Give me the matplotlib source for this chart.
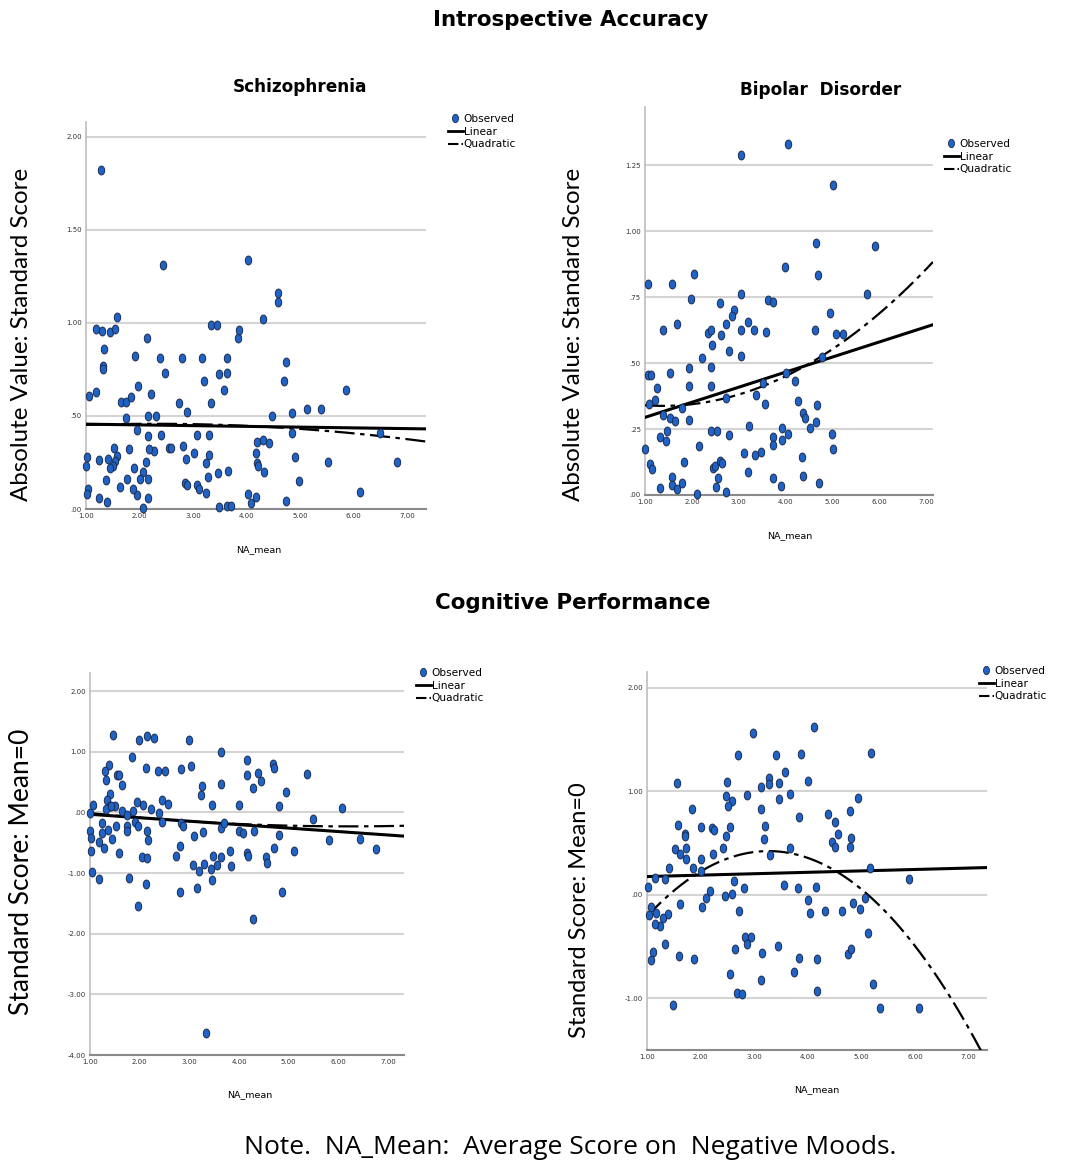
import numpy as np
import matplotlib
matplotlib.use("Agg")
import matplotlib.pyplot as plt
from matplotlib.lines import Line2D
from matplotlib.path import Path
from matplotlib.transforms import Affine2D

# ---- data ----
# Schizophrenia, introspective accuracy
scz_ia_x = [1.28, 2.44, 4.02, 4.59, 4.59, 1.57, 1.19, 1.30, 1.44, 1.54, 1.34, 1.32, 1.32, 1.05, 1.19,
            2.13, 1.92, 2.38, 1.98, 2.21, 2.47, 1.65, 1.75, 1.84, 1.74, 2.16, 2.30, 2.80, 2.74, 2.89,
            3.17, 3.21, 3.33, 3.33, 3.44, 3.49, 3.58, 3.64, 3.64, 3.83, 3.86, 4.31, 4.73, 4.70, 4.48,
            4.84, 5.13, 5.39, 5.85, 4.84, 6.49, 5.52, 6.80, 6.12, 4.98, 4.90, 4.73, 4.42, 4.31, 4.19,
            4.17, 4.19, 4.22, 4.33, 4.03, 4.09, 4.17, 3.66, 3.47, 3.49, 3.64, 3.70, 3.30, 3.30, 3.25,
            3.27, 3.25, 3.07, 3.01, 3.08, 3.11, 2.85, 2.88, 2.86, 2.82, 2.55, 2.59, 2.40, 2.27, 2.18,
            2.16, 2.16, 2.16, 2.12, 2.06, 2.06, 2.01, 1.96, 1.95, 1.90, 1.88, 1.80, 1.77, 1.63, 1.58,
            1.53, 1.54, 1.50, 1.45, 1.42, 1.37, 1.40, 1.25, 1.25, 1.02, 1.00, 1.03, 1.02]
scz_ia_y = [1.82, 1.31, 1.34, 1.16, 1.11, 1.03, 0.97, 0.955, 0.95, 0.97, 0.86, 0.77, 0.755, 0.61, 0.63,
            0.92, 0.825, 0.81, 0.66, 0.62, 0.73, 0.575, 0.575, 0.60, 0.49, 0.50, 0.50, 0.81, 0.57, 0.52,
            0.81, 0.69, 0.57, 0.99, 0.99, 0.725, 0.64, 0.81, 0.73, 0.92, 0.96, 1.02, 0.79, 0.69, 0.50,
            0.515, 0.535, 0.535, 0.64, 0.41, 0.41, 0.25, 0.25, 0.09, 0.15, 0.28, 0.045, 0.355, 0.37, 0.36,
            0.30, 0.245, 0.23, 0.20, 0.08, 0.03, 0.063, 0.205, 0.195, 0.01, 0.015, 0.018, 0.40, 0.29, 0.245,
            0.17, 0.085, 0.40, 0.30, 0.13, 0.11, 0.14, 0.127, 0.27, 0.34, 0.33, 0.33, 0.40, 0.31, 0.32,
            0.39, 0.16, 0.06, 0.25, 0.20, 0.005, 0.16, 0.425, 0.073, 0.22, 0.107, 0.32, 0.16, 0.116, 0.285,
            0.33, 0.26, 0.23, 0.22, 0.27, 0.157, 0.038, 0.265, 0.06, 0.28, 0.23, 0.107, 0.08]

# Bipolar disorder, introspective accuracy
bd_ia_x = [3.06, 4.06, 5.02, 4.65, 5.91, 4.00, 4.69, 1.06, 1.57, 2.05, 1.98, 3.05, 2.60, 2.90, 2.85,
           2.73, 3.21, 3.33, 3.04, 3.63, 3.74, 3.58, 5.73, 4.95, 4.63, 5.08, 5.22, 1.38, 1.68, 2.35,
           2.42, 2.62, 2.44, 2.79, 3.04, 2.21, 1.95, 2.42, 1.53, 1.07, 1.12, 1.25, 1.95, 2.41, 4.20,
           4.02, 4.79, 3.53, 3.38, 3.56, 4.26, 4.67, 1.22, 1.08, 1.38, 1.53, 1.65, 1.78, 1.95, 2.72,
           4.38, 4.42, 4.52, 4.65, 3.22, 3.93, 4.06, 5.00, 1.48, 1.31, 1.44, 2.42, 2.53, 2.79, 2.16,
           3.73, 3.74, 3.92, 1.01, 5.01, 3.12, 3.35, 3.47, 4.35, 1.83, 1.11, 1.14, 2.46, 2.49, 2.60,
           2.64, 3.19, 3.73, 4.38, 2.55, 1.58, 1.58, 1.68, 1.80, 1.31, 2.52, 2.74, 2.12, 3.90, 4.72]
bd_ia_y = [1.288, 1.33, 1.176, 0.954, 0.945, 0.863, 0.835, 0.80, 0.80, 0.838, 0.743, 0.76, 0.728, 0.70, 0.677,
           0.649, 0.655, 0.626, 0.626, 0.737, 0.733, 0.617, 0.762, 0.69, 0.627, 0.611, 0.611, 0.624, 0.646, 0.615,
           0.626, 0.605, 0.57, 0.544, 0.525, 0.52, 0.48, 0.485, 0.462, 0.454, 0.454, 0.407, 0.412, 0.412, 0.432,
           0.462, 0.523, 0.426, 0.378, 0.346, 0.355, 0.34, 0.359, 0.344, 0.302, 0.29, 0.281, 0.328, 0.286, 0.368,
           0.309, 0.29, 0.255, 0.275, 0.262, 0.255, 0.233, 0.233, 0.242, 0.22, 0.205, 0.243, 0.242, 0.229, 0.186,
           0.22, 0.189, 0.21, 0.174, 0.176, 0.158, 0.151, 0.164, 0.145, 0.126, 0.116, 0.097, 0.103, 0.111, 0.129,
           0.122, 0.088, 0.063, 0.073, 0.066, 0.069, 0.038, 0.021, 0.044, 0.025, 0.029, 0.013, 0.003, 0.035, 0.047]

# Schizophrenia, cognitive performance
scz_cp_x = [1.46, 1.99, 2.14, 2.29, 2.99, 3.64, 1.84, 4.16, 3.03, 2.84, 2.12, 2.37, 2.51, 1.39, 1.30,
            1.32, 1.54, 1.58, 1.65, 4.69, 4.70, 4.15, 4.38, 4.45, 4.28, 5.36, 3.25, 3.24, 3.63, 4.94,
            1.40, 1.35, 1.51, 1.40, 1.07, 1.95, 2.06, 2.22, 2.45, 2.56, 2.39, 2.44, 3.45, 4.00, 4.81,
            6.08, 5.49, 0.99, 1.32, 1.42, 1.64, 1.75, 1.87, 1.90, 1.97, 1.25, 1.52, 1.75, 1.74, 1.25,
            1.37, 1.44, 1.00, 1.03, 1.18, 1.28, 1.02, 1.58, 1.05, 1.18, 1.79, 2.13, 1.97, 2.04, 2.14,
            2.15, 2.17, 2.84, 2.87, 2.73, 2.81, 2.81, 3.09, 3.07, 3.20, 3.16, 3.30, 3.28, 3.48, 3.43,
            3.46, 3.56, 3.63, 3.63, 3.69, 3.81, 3.83, 4.00, 4.07, 4.15, 4.18, 4.30, 4.28, 4.55, 4.56,
            4.70, 4.81, 4.87, 5.10, 5.81, 6.43, 6.75, 3.33]
scz_cp_y = [1.28, 1.20, 1.26, 1.22, 1.20, 0.99, 0.92, 0.86, 0.76, 0.72, 0.73, 0.69, 0.69, 0.79, 0.69,
            0.53, 0.61, 0.61, 0.45, 0.80, 0.73, 0.62, 0.65, 0.52, 0.41, 0.64, 0.43, 0.28, 0.47, 0.34,
            0.31, 0.20, 0.11, 0.11, 0.13, 0.17, 0.12, 0.055, 0.21, 0.14, -0.01, -0.15, 0.12, 0.12, 0.11,
            0.07, -0.11, -0.01, 0.055, 0.11, 0.03, -0.04, 0.02, -0.15, -0.23, -0.17, -0.23, -0.23, -0.31, -0.34,
            -0.29, -0.43, -0.31, -0.42, -0.48, -0.58, -0.64, -0.67, -0.99, -1.10, -1.08, -1.18, -1.54, -0.74, -0.75,
            -0.31, -0.45, -0.18, -0.23, -0.72, -0.56, -1.32, -0.38, -0.86, -0.96, -1.24, -0.85, -0.33, -0.72, -0.94,
            -1.11, -0.86, -0.74, -0.26, -0.18, -0.64, -0.89, -0.30, -0.34, -0.67, -0.72, -0.30, -1.76, -0.74, -0.83,
            -0.59, -0.37, -1.32, -0.64, -0.45, -0.44, -0.60, -3.64]

# Bipolar disorder, cognitive performance
bd_cp_x = [4.11, 2.97, 5.17, 2.69, 3.41, 3.87, 3.58, 3.28, 3.28, 3.13, 3.46, 4.00, 1.56, 2.49, 2.48,
           2.59, 2.51, 2.87, 3.67, 3.46, 3.13, 4.94, 1.84, 3.84, 4.38, 4.78, 4.50, 4.56, 4.80, 4.78,
           4.45, 4.50, 1.57, 2.00, 2.21, 2.25, 2.55, 2.48, 3.20, 3.19, 1.70, 1.70, 1.52, 1.62, 1.72,
           1.73, 2.42, 2.23, 2.01, 1.86, 1.41, 2.01, 3.66, 3.29, 5.15, 1.14, 1.33, 1.02, 2.62, 2.80,
           2.59, 2.46, 2.18, 2.10, 2.02, 3.55, 3.81, 4.16, 4.00, 4.04, 4.31, 4.64, 4.84, 4.98, 5.07,
           5.89, 2.72, 1.61, 1.40, 1.29, 1.25, 1.14, 1.08, 1.17, 1.04, 1.33, 1.60, 1.87, 1.11, 1.08,
           2.65, 2.82, 2.93, 2.87, 3.15, 3.44, 3.83, 3.74, 3.13, 2.54, 2.68, 2.78, 4.17, 4.17, 4.75,
           4.80, 5.12, 5.21, 1.48, 5.35, 6.07]
bd_cp_y = [1.62, 1.56, 1.37, 1.35, 1.35, 1.36, 1.18, 1.13, 1.07, 1.04, 1.08, 1.10, 1.08, 1.09, 0.95,
           0.90, 0.86, 0.96, 0.97, 0.92, 0.83, 0.93, 0.83, 0.75, 0.78, 0.81, 0.70, 0.59, 0.55, 0.46,
           0.51, 0.46, 0.67, 0.65, 0.64, 0.62, 0.65, 0.57, 0.66, 0.54, 0.59, 0.57, 0.44, 0.39, 0.45,
           0.34, 0.45, 0.39, 0.34, 0.26, 0.26, 0.23, 0.45, 0.38, 0.26, 0.16, 0.15, 0.07, 0.13, 0.06,
           0.01, -0.01, 0.04, -0.03, -0.12, 0.09, 0.06, 0.07, -0.05, -0.18, -0.16, -0.16, -0.08, -0.14, -0.03,
           0.15, -0.16, -0.09, -0.19, -0.23, -0.30, -0.28, -0.12, -0.18, -0.20, -0.48, -0.59, -0.62, -0.55, -0.63,
           -0.52, -0.41, -0.41, -0.48, -0.56, -0.50, -0.61, -0.75, -0.82, -0.77, -0.95, -0.96, -0.62, -0.93, -0.57,
           -0.52, -0.37, -0.86, -1.07, -1.09, -1.09]

# fitted curves as drawn (polynomial coefficients, highest power first)
scz_ia_lin = [-0.004, 0.46]
scz_ia_quad = [-0.00371, 0.0169, 0.4388]
bd_ia_lin = [0.0571, 0.237]
bd_ia_quad = [0.01639, -0.04528, 0.3689]
scz_cp_lin = [-0.057, 0.027]
scz_cp_quad = [0.00808, -0.1004, 0.0823]
bd_cp_lin = [0.0137, 0.161]
bd_cp_quad = [-0.1228, 0.8022, -0.8894]

x_ticks = [1, 2, 3, 4, 5, 6, 7]
ia_scz_yticks = [0, 0.5, 1.0, 1.5, 2.0]
ia_bd_yticks = [0, 0.25, 0.5, 0.75, 1.0, 1.25]
cp_scz_yticks = [-4, -3, -2, -1, 0, 1, 2]
cp_bd_yticks = [-1, 0, 1, 2]


def spss_fmt(v):
    s = "%.2f" % v
    if s.startswith("0."):
        s = s[1:]
    elif s.startswith("-0."):
        s = "-" + s[2:]
    return s


W, H = 1065, 1165
fig = plt.figure(figsize=(W / 100, H / 100), dpi=100)

# SPSS draws its dots slightly taller than wide
dot = Path.unit_circle().transformed(Affine2D().scale(0.72, 1.0))
dot_face, dot_edge = "#1f63c6", "#1b2b4f"


def panel(rect, xs, ys, lin, quad, xlim, ylim, yticks, legend_xy):
    l, t, r, b = rect
    ax = fig.add_axes([l / W, 1 - b / H, (r - l) / W, (b - t) / H])
    for yt in yticks:
        ax.axhline(yt, color="#d4d4d4", lw=1.5, zorder=0)
    xx = np.linspace(xlim[0], xlim[1], 300)
    ax.plot(xx, np.polyval(lin, xx), color="black", lw=2.2, zorder=3)
    ax.plot(xx, np.polyval(quad, xx), color="black", lw=1.6, zorder=3,
            dashes=(9, 2.5, 2, 2.5))
    ax.plot(xs, ys, marker=dot, ls="none", ms=6.4, mfc=dot_face, mec=dot_edge,
            mew=0.7, zorder=4, clip_on=False)
    ax.set_xlim(xlim)
    ax.set_ylim(ylim)
    ax.set_xticks(x_ticks)
    ax.set_xticklabels([spss_fmt(v) for v in x_ticks])
    ax.set_yticks(yticks)
    ax.set_yticklabels([spss_fmt(v) for v in yticks])
    ax.tick_params(length=0, labelsize=5, labelcolor="#333333", pad=3)
    for s in ["top", "right"]:
        ax.spines[s].set_visible(False)
    ax.spines["left"].set_color("#bdbdbd")
    ax.spines["bottom"].set_color("#8a8a8a")
    ax.spines["left"].set_linewidth(1.2)
    ax.spines["bottom"].set_linewidth(1.5)

    handles = [Line2D([], [], marker=dot, ls="none", ms=6, mfc=dot_face, mec=dot_edge, mew=0.6),
               Line2D([], [], color="black", lw=2),
               Line2D([], [], color="black", lw=1.5, dashes=(5, 1.5, 1.2, 1.5))]
    fig.legend(handles, ["Observed", "Linear", "Quadratic"], loc="upper left",
               bbox_to_anchor=(legend_xy[0] / W, 1 - legend_xy[1] / H), frameon=False,
               prop={"size": 7.6}, handlelength=1.4, handletextpad=0.1,
               labelspacing=0.25, borderpad=0, borderaxespad=0)
    return ax


panel((86, 122, 426, 509), scz_ia_x, scz_ia_y, scz_ia_lin, scz_ia_quad,
      (1, 7.35), (0, 2.08), ia_scz_yticks, (448, 114))
panel((645, 107, 933, 495), bd_ia_x, bd_ia_y, bd_ia_lin, bd_ia_quad,
      (1, 7.15), (0, 1.47), ia_bd_yticks, (944, 139))
panel((90, 673, 404, 1055), scz_cp_x, scz_cp_y, scz_cp_lin, scz_cp_quad,
      (1, 7.32), (-4, 2.3), cp_scz_yticks, (416, 668))
panel((647, 672, 987, 1050), bd_cp_x, bd_cp_y, bd_cp_lin, bd_cp_quad,
      (1, 7.34), (-1.5, 2.15), cp_bd_yticks, (979, 666))


def ftext(x, y, s, **kw):
    fig.text(x / W, 1 - y / H, s, ha="center", va="center", **kw)


ftext(571, 20, "Introspective Accuracy", fontsize=15.4, fontweight="bold")
ftext(573, 603, "Cognitive Performance", fontsize=15.4, fontweight="bold")
ftext(300, 87, "Schizophrenia", fontsize=12.2, fontweight="bold")
ftext(821, 90, "Bipolar  Disorder", fontsize=12.2, fontweight="bold")

ftext(22, 334, "Absolute Value: Standard Score", fontsize=17.3, rotation=90, family="Lato")
ftext(573, 334, "Absolute Value: Standard Score", fontsize=17.3, rotation=90, family="Lato")
ftext(22, 872, "Standard Score: Mean=0", fontsize=19, rotation=90, family="Lato")
ftext(580, 910, "Standard Score: Mean=0", fontsize=17, rotation=90, family="Lato")

for (x, y) in [(259, 550), (790, 536), (250, 1095), (817, 1090)]:
    ftext(x, y, "NA_mean", fontsize=6.8)

ftext(570, 1147, "Note.  NA_Mean:  Average Score on  Negative Moods.", fontsize=19, family="Open Sans")

fig.savefig("out.png", dpi=100)
